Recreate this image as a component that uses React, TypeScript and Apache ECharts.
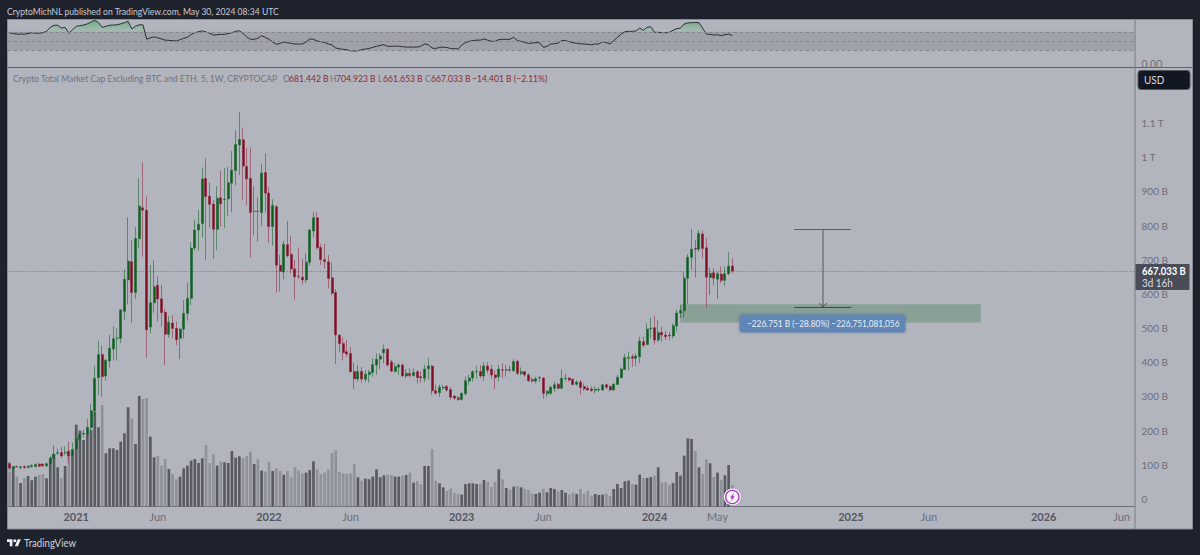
import React, { useEffect, useRef } from "react";
import * as echarts from "echarts";

// weekly candles, price in billions of USD, first week 2020-08-31
const opens = [
  104, 89, 95, 92, 95, 92, 95, 95, 102, 102,
  97, 103, 119, 134, 136, 135, 140, 127, 146, 175,
  190, 190, 209, 258, 355, 423, 360, 404, 439, 470,
  470, 549, 641, 694, 604, 762, 852, 845, 503, 574,
  625, 586, 546, 482, 515, 499, 470, 497, 543, 587,
  734, 787, 806, 938, 886, 863, 789, 881, 876, 878,
  924, 961, 1036, 1051, 973, 938, 841, 842, 838, 955,
  895, 797, 855, 684, 664, 744, 716, 673, 652, 649,
  641, 693, 784, 823, 736, 700, 694, 647, 604, 479,
  455, 431, 426, 373, 351, 373, 350, 364, 370, 392,
  409, 428, 438, 401, 373, 386, 392, 360, 367, 361,
  372, 358, 353, 381, 389, 317, 311, 325, 329, 320,
  301, 296, 291, 308, 345, 354, 372, 373, 360, 389,
  380, 363, 358, 378, 377, 378, 375, 403, 367, 372,
  363, 349, 345, 355, 354, 308, 309, 324, 336, 324,
  352, 354, 350, 336, 342, 329, 324, 322, 318, 319,
  319, 334, 329, 319, 335, 355, 379, 412, 416, 412,
  416, 460, 452, 498, 501, 465, 487, 480, 479, 477,
  506, 544, 551, 646, 707, 733, 731, 775, 735, 648,
  662, 643, 658, 640, 659, 681.442,
];
const closes = [
  90, 95, 94, 94, 92, 96, 98, 101, 96, 97,
  103, 120, 131, 135, 126, 136, 126, 145, 177, 189,
  192, 210, 258, 353, 423, 358, 406, 441, 469, 471,
  553, 643, 696, 604, 762, 857, 845, 495, 574, 621,
  585, 545, 482, 517, 499, 466, 497, 543, 587, 734,
  787, 804, 936, 885, 862, 789, 880, 864, 877, 925,
  962, 1037, 1052, 974, 937, 838, 842, 841, 954, 895,
  797, 859, 684, 666, 745, 712, 673, 650, 651, 641,
  693, 787, 823, 735, 701, 695, 645, 602, 480, 454,
  428, 424, 372, 352, 373, 351, 365, 371, 393, 409,
  418, 438, 392, 374, 387, 392, 360, 368, 361, 370,
  355, 355, 380, 389, 317, 309, 327, 327, 319, 298,
  295, 291, 309, 346, 354, 372, 373, 360, 389, 377,
  363, 355, 380, 377, 378, 377, 402, 368, 372, 363,
  346, 345, 352, 356, 309, 315, 327, 334, 324, 353,
  353, 348, 335, 342, 326, 322, 319, 317, 321, 320,
  334, 327, 319, 336, 356, 380, 414, 414, 412, 418,
  462, 450, 497, 500, 465, 487, 480, 475, 477, 507,
  544, 551, 646, 707, 731, 731, 777, 733, 649, 660,
  646, 659, 639, 659, 681, 667.033,
];
const highs = [
  109, 96, 97, 97, 98, 98, 102, 105, 106, 105,
  107, 126, 157, 147, 152, 154, 168, 165, 200, 200,
  203, 234, 278, 390, 463, 449, 410, 480, 505, 499,
  556, 672, 824, 758, 795, 938, 985, 885, 685, 698,
  652, 626, 555, 536, 538, 519, 499, 582, 633, 751,
  816, 846, 970, 997, 926, 875, 916, 960, 968, 972,
  1018, 1080, 1132, 1087, 1027, 1029, 915, 883, 980, 1011,
  912, 877, 859, 714, 756, 814, 769, 699, 736, 702,
  719, 789, 841, 839, 745, 746, 714, 692, 614, 482,
  473, 465, 446, 399, 392, 387, 377, 377, 411, 426,
  426, 452, 441, 407, 397, 397, 397, 380, 382, 382,
  377, 373, 392, 413, 392, 334, 334, 334, 334, 327,
  304, 302, 311, 358, 363, 377, 389, 392, 400, 400,
  392, 377, 392, 397, 392, 389, 409, 407, 385, 375,
  368, 356, 358, 358, 356, 319, 331, 343, 340, 379,
  366, 356, 353, 348, 348, 338, 331, 329, 329, 327,
  336, 338, 333, 338, 363, 385, 424, 431, 424, 426,
  475, 475, 514, 530, 536, 524, 504, 492, 488, 514,
  553, 568, 665, 716, 790, 758, 787, 784, 765, 677,
  675, 665, 680, 680, 722, 704.923,
];
const lows = [
  83, 87, 91, 87, 88, 89, 92, 92, 93, 94,
  93, 99, 114, 130, 120, 128, 107, 122, 140, 163,
  180, 180, 200, 238, 304, 299, 346, 384, 405, 405,
  456, 524, 570, 516, 585, 733, 709, 412, 485, 545,
  519, 504, 392, 472, 470, 450, 409, 470, 522, 567,
  728, 727, 765, 699, 795, 703, 728, 797, 794, 828,
  839, 917, 948, 875, 860, 706, 772, 753, 799, 838,
  750, 741, 605, 607, 643, 707, 660, 584, 643, 629,
  633, 683, 765, 730, 685, 675, 616, 596, 395, 429,
  405, 416, 371, 322, 343, 340, 343, 340, 358, 364,
  380, 397, 387, 371, 370, 363, 358, 353, 356, 358,
  338, 340, 343, 348, 304, 306, 299, 319, 314, 290,
  290, 287, 288, 304, 334, 343, 353, 353, 346, 368,
  351, 322, 345, 353, 358, 371, 373, 363, 361, 358,
  343, 341, 338, 343, 293, 299, 304, 314, 321, 321,
  346, 343, 332, 331, 306, 317, 316, 314, 309, 314,
  317, 321, 315, 317, 334, 352, 377, 377, 387, 389,
  397, 445, 450, 470, 452, 460, 460, 465, 465, 470,
  490, 529, 530, 570, 670, 648, 724, 704, 560, 597,
  626, 585, 631, 624, 655, 661.653,
];
const volumes = [
  104, 117, 89, 70, 84, 91, 78, 89, 95, 97,
  84, 144, 157, 117, 85, 121, 150, 165, 245, 227,
  199, 221, 229, 284, 237, 304, 159, 174, 174, 169,
  194, 219, 297, 264, 187, 331, 322, 325, 209, 147,
  151, 122, 142, 112, 97, 81, 89, 114, 122, 137,
  142, 130, 144, 184, 130, 156, 122, 135, 132, 130,
  166, 146, 150, 145, 151, 164, 127, 141, 107, 104,
  133, 106, 114, 106, 95, 106, 87, 117, 107, 99,
  101, 109, 135, 111, 97, 101, 111, 160, 168, 103,
  99, 97, 99, 127, 87, 77, 83, 81, 89, 111,
  87, 93, 95, 94, 89, 89, 92, 94, 101, 71,
  76, 66, 121, 121, 172, 77, 69, 57, 46, 53,
  40, 36, 35, 67, 69, 69, 67, 67, 79, 73,
  58, 73, 111, 81, 55, 50, 59, 61, 57, 52,
  49, 38, 37, 41, 52, 42, 55, 52, 45, 49,
  41, 35, 41, 37, 52, 38, 46, 32, 37, 34,
  35, 38, 31, 52, 67, 55, 75, 77, 67, 65,
  95, 85, 85, 88, 92, 117, 72, 72, 64, 70,
  103, 92, 152, 204, 202, 166, 117, 97, 141, 129,
  88, 101, 79, 93, 124, 64,
];
const rsiValues = [
  68, 66, 65, 65, 65, 66, 68, 67, 67, 68,
  71, 79.5, 84, 84, 78, 79.5, 66.6, 74, 82, 83,
  84.5, 87, 91, 94.5, 89.5, 79.5, 81.7, 84, 84.5, 85,
  87, 89.5, 92.4, 76, 82, 85, 85, 54, 57, 59,
  57, 54.5, 52, 51.5, 51, 50, 53, 56, 58, 64.4,
  68, 70, 72, 69.5, 66.6, 63, 63.7, 64.4, 64.4, 66,
  68, 71, 72, 66.6, 59, 53.7, 53.7, 56, 61.6, 58,
  53.7, 48, 43, 45, 48, 46.5, 45, 43.7, 43.7, 43.7,
  48, 54.5, 53.7, 50, 48.7, 47, 44, 41.5, 35, 33.6,
  32, 31.5, 29, 28.6, 29, 31.5, 33, 34, 36.5, 38.6,
  40.8, 42, 38.6, 38.6, 39, 39, 38, 37, 37, 37,
  37, 39, 43.7, 42, 35, 34, 36.5, 37, 36, 34,
  33.6, 33, 41.5, 46.5, 49.4, 51, 52, 52, 54.4, 52,
  49.4, 49.4, 53, 53.7, 53.7, 53.7, 58, 51, 49.4, 47,
  45, 45.8, 46.5, 46.5, 36.5, 38.6, 43.7, 44, 45.8, 51,
  51, 48.7, 46.5, 45, 44, 43.7, 43, 42, 43.7, 43.7,
  48.7, 46.5, 43.7, 51, 58, 65, 70, 71, 71, 71.6,
  78, 73, 79.5, 81, 68.7, 68.7, 68, 68, 68.7, 73,
  76.6, 78, 86.6, 89, 89.5, 90, 89.5, 77.3, 65, 64.4,
  63, 63.7, 61.6, 63.7, 65, 62,
];
const totalWeeks = 304;
const firstWeek = Date.UTC(2020, 7, 31);
const weekLabels = Array.from({ length: totalWeeks }, (_, i) =>
  new Date(firstWeek + i * 7 * 86400000).toISOString().slice(0, 10),
);
// category index -> time-axis label
const timeTicks: Record<number, string> = {
  18: "2021", 40: "Jun", 70: "2022", 92: "Jun", 122: "2023", 144: "Jun",
  174: "2024", 191: "May", 227: "2025", 248: "Jun", 279: "2026", 300: "Jun",
};
const priceTicks = [0, 100, 200, 300, 400, 500, 600, 700, 800, 900, 1000, 1100];
const lastClose = 667.033;
const zoneTop = 570;
const zoneBottom = 516;
const zoneFrom = 181;
const zoneTo = 262;

const FONT = 'Lato, "Noto Sans", sans-serif';
const PANEL = "#b2b5be";
const DARK = "#1e222d";

echarts.graphic.registerShape(
  "tvlogo",
  echarts.graphic.extendPath(
    "M14 22H7V11H0V4h14v18zM28 22h-8l7.5-18h8L28 22zM24 8a4 4 0 1 1-8 0a4 4 0 1 1 8 0z",
    {},
  ),
);

const txt = (x: number, y: number, text: string, fill: string, font = `10px ${FONT}`, z = 60, sx = 0.86) => ({
  type: "text",
  z,
  silent: true,
  x,
  y,
  scaleX: sx,
  style: { x: 0, y: 0, text, fill, font, align: "left", verticalAlign: "middle" },
});
const seg = (x1: number, y1: number, x2: number, y2: number, stroke: string, lineWidth = 1, z = 40) => ({
  type: "line",
  z,
  silent: true,
  shape: { x1, y1, x2, y2 },
  style: { stroke, lineWidth },
});

export default function App() {
  const ref = useRef<HTMLDivElement>(null);
  useEffect(() => {
    const chart = echarts.init(ref.current!, undefined, { renderer: "svg" });
    const red = "#8f2a35";
    const gray = "#70727c";
    const graphic = [
      { type: "rect", z: -10, silent: true, shape: { x: 7.5, y: 19.5, width: 1185, height: 509.5 }, style: { fill: PANEL, stroke: "#8a8c95", lineWidth: 1 } },
      seg(7.5, 67.5, 1192, 67.5, "#62646d"),
      seg(1135, 20, 1135, 529, "#787a83"),
      { type: "rect", z: 30, silent: true, shape: { x: 1136, y: 68, width: 55, height: 4 }, style: { fill: PANEL } },
      txt(7, 11, "CryptoMichNL published on TradingView.com, May 30, 2024 08:34 UTC", "#c8cad2"),
      txt(13, 78, "Crypto Total Market Cap Excluding BTC and ETH, 5, 1W, CRYPTOCAP", gray),
      txt(283, 78, "O", gray),
      txt(289, 78, "681.442 B", red),
      txt(330, 78, "H", gray),
      txt(336, 78, "704.923 B", red),
      txt(378, 78, "L", gray),
      txt(383, 78, "661.653 B", red),
      txt(425, 78, "C", gray),
      txt(431, 78, "667.033 B", red),
      txt(472, 78, "\u221214.401 B (\u22122.11%)", red),
      { type: "rect", z: 50, silent: true, shape: { x: 1138, y: 70.5, width: 52, height: 19, r: 3 }, style: { fill: "#131722", stroke: "#50535e", lineWidth: 1 } },
      txt(1144, 80, "USD", "#d8dae2", `11px ${FONT}`, 60, 0.9),
      { type: "rect", z: 50, silent: true, shape: { x: 1135.5, y: 264, width: 54, height: 26 }, style: { fill: "#4a4c57" } },
      txt(1142, 271, "667.033 B", "#ffffff", `bold 11px ${FONT}`, 60, 0.86),
      txt(1142, 283, "3d 16h", "#dcdee5", `11px ${FONT}`, 60, 0.9),
      seg(794, 229.5, 851, 229.5, "#5c5e67", 1.2),
      seg(794, 307.5, 851, 307.5, "#3f4a44", 1.2),
      seg(823, 229.5, 823, 307, "#55575f", 1),
      { type: "polyline", z: 40, silent: true, shape: { points: [[819, 303], [823, 307], [827, 303]] }, style: { stroke: "#55575f", fill: "none", lineWidth: 1 } },
      { type: "rect", z: 45, silent: true, shape: { x: 739.5, y: 314.5, width: 166, height: 18, r: 3 }, style: { fill: "#5f86b5", shadowBlur: 3, shadowColor: "rgba(60,70,90,0.4)" } },
      txt(747, 323.5, "\u2212226.751 B (\u221228.80%) \u2212226,751,081,056", "#e9eef7", `10px ${FONT}`, 46, 0.83),
      { type: "circle", z: 45, silent: true, shape: { cx: 732.3, cy: 497, r: 8.5 }, style: { fill: "#f4eef6" } },
      { type: "circle", z: 46, silent: true, shape: { cx: 732.3, cy: 497, r: 6.6 }, style: { fill: "#f7f3f8", stroke: "#a735c0", lineWidth: 1.3 } },
      { type: "polygon", z: 47, silent: true, shape: { points: [[734.2, 492.6], [730, 497.8], [732, 497.8], [730.6, 501.4], [734.8, 496.2], [732.8, 496.2]] }, style: { fill: "#a735c0" } },
      { type: "tvlogo", z: 60, silent: true, x: 7, y: 537.6, scaleX: 0.39, scaleY: 0.39, style: { fill: "#eef0f4" } },
      txt(24, 543, "TradingView", "#d1d4dc", `10.5px ${FONT}`, 60, 0.92),
    ];
    const candles = opens.map((o, i) => [o, closes[i], lows[i], highs[i]]);
    const option = {
      animation: false,
      backgroundColor: DARK,
      textStyle: { fontFamily: FONT },
      graphic,
      grid: [
        { left: 7.65, top: 20, width: 1126.9, height: 47 },
        { left: 7.65, top: 67, width: 1126.9, height: 439.3 },
      ],
      xAxis: [
        { type: "category", gridIndex: 0, data: weekLabels, show: false },
        {
          type: "category",
          gridIndex: 1,
          data: weekLabels,
          axisLine: { show: true, onZero: false, lineStyle: { color: "#6e7079", width: 1 } },
          axisTick: { show: false },
          splitLine: { show: false },
          axisLabel: {
            show: true,
            margin: 5,
            hideOverlap: false,
            interval: (i: number) => timeTicks[i] !== undefined,
            formatter: (_: string, i: number) => {
              const t = timeTicks[i];
              return /^\d/.test(t) ? `{y|${t}}` : `{m|${t}}`;
            },
            rich: {
              y: { fontFamily: FONT, fontSize: 11, fontWeight: "bold", color: "#55575f" },
              m: { fontFamily: FONT, fontSize: 11, color: "#6c6e78" },
            },
          },
        },
      ],
      yAxis: [
        {
          type: "value",
          gridIndex: 0,
          position: "right",
          min: -5.8,
          max: 95.3,
          axisLine: { show: false },
          axisTick: { show: false },
          splitLine: { show: false },
          axisLabel: {
            show: true,
            customValues: [0],
            margin: 7,
            formatter: () => "0.00",
            fontFamily: FONT,
            fontSize: 10.5,
            color: "#6c6e78",
          },
        },
        {
          type: "value",
          gridIndex: 1,
          position: "right",
          min: -21.4,
          max: 1263.9,
          scale: true,
          axisLine: { show: false },
          axisTick: { show: false },
          splitLine: { show: false },
          axisLabel: {
            show: true,
            customValues: priceTicks,
            margin: 7,
            fontFamily: FONT,
            fontSize: 10,
            color: "#6c6e78",
            formatter: (v: number) => (v === 0 ? "0" : v >= 1000 ? `${v / 1000} T` : `${v} B`),
          },
        },
        { type: "value", gridIndex: 1, min: 0, max: 1318, show: false },
      ],
      series: [
        {
          name: "RSI base",
          type: "line",
          xAxisIndex: 0,
          yAxisIndex: 0,
          stack: "rsi",
          symbol: "none",
          silent: true,
          lineStyle: { width: 0, opacity: 0 },
          data: rsiValues.map(() => 70),
          z: 3,
          markArea: {
            silent: true,
            itemStyle: { color: "#a0a2aa" },
            data: [[{ yAxis: 70 }, { yAxis: 30 }]],
          },
          markLine: {
            silent: true,
            symbol: "none",
            label: { show: false },
            lineStyle: { color: "#83858e", type: [3, 3], width: 1 },
            data: [{ yAxis: 70 }, { yAxis: 50 }, { yAxis: 30 }],
          },
        },
        {
          name: "RSI above 70",
          type: "line",
          xAxisIndex: 0,
          yAxisIndex: 0,
          stack: "rsi",
          symbol: "none",
          silent: true,
          lineStyle: { width: 0, opacity: 0 },
          areaStyle: {
            color: new echarts.graphic.LinearGradient(0, 0, 0, 1, [
              { offset: 0, color: "rgba(50,175,80,0.85)" },
              { offset: 1, color: "rgba(120,190,130,0.25)" },
            ]),
          },
          data: rsiValues.map((v) => Math.max(0, v - 70)),
          z: 3,
        },
        {
          name: "RSI",
          type: "line",
          xAxisIndex: 0,
          yAxisIndex: 0,
          symbol: "none",
          silent: true,
          lineStyle: { color: "#2d2e33", width: 1 },
          data: rsiValues,
          z: 4,
        },
        {
          name: "Volume",
          type: "bar",
          xAxisIndex: 1,
          yAxisIndex: 2,
          barWidth: 2.7,
          silent: true,
          z: 2,
          data: volumes.map((v, i) => ({
            value: v,
            itemStyle: { color: closes[i] >= opens[i] ? "#5a5b61" : "#90929a" },
          })),
        },
        {
          name: "Crypto Total Market Cap Excluding BTC and ETH",
          type: "candlestick",
          xAxisIndex: 1,
          yAxisIndex: 1,
          barWidth: 2.5,
          silent: true,
          z: 5,
          itemStyle: {
            color: "#0f5f1c",
            color0: "#7f0f20",
            borderColor: "rgba(30,105,50,0.6)",
            borderColor0: "rgba(140,35,60,0.55)",
            borderWidth: 1,
          },
          data: candles,
          markLine: {
            silent: true,
            symbol: "none",
            label: { show: false },
            lineStyle: { color: "#6e7079", type: [1, 2], width: 1 },
            data: [{ yAxis: lastClose }],
          },
          markArea: {
            silent: true,
            itemStyle: { color: "rgba(62,125,80,0.36)" },
            data: [[{ xAxis: zoneFrom, yAxis: zoneTop }, { xAxis: zoneTo, yAxis: zoneBottom }]],
          },
        },
      ],
    };
    chart.setOption(option as any);
    return () => chart.dispose();
  }, []);
  return <div ref={ref} style={{ position: "absolute", left: 0, top: 0, width: 1200, height: 555 }} />;
}
